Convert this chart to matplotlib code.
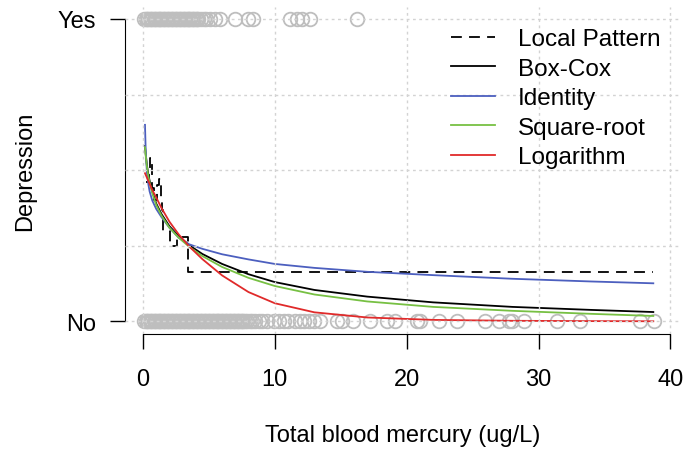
import matplotlib
matplotlib.use("Agg")
import matplotlib.pyplot as plt

plt.rcParams['font.family'] = ['Liberation Sans', 'DejaVu Sans']

# ---- data ----
x_yes = [0.1, 0.2, 0.3, 0.4, 0.5, 0.6, 0.7, 0.8, 0.9, 1.0, 1.1, 1.2, 1.3, 1.4,
         1.5, 1.6, 1.7, 1.8, 1.9, 2.0, 2.1, 2.2, 2.3, 2.4, 2.5, 2.6, 2.7, 2.8,
         2.9, 3.0, 3.1, 3.2, 3.3, 3.4, 3.5, 3.6, 3.7, 3.8, 3.9, 4.0, 4.1, 4.2,
         4.4, 4.6, 4.8,
         5.09, 5.46, 5.84, 6.98, 7.97, 8.35, 11.16, 11.69, 12.07, 12.68, 16.2]
x_no = [0.1, 0.2, 0.3, 0.4, 0.5, 0.6, 0.7, 0.8, 0.9, 1.0, 1.1, 1.2, 1.3, 1.4,
        1.5, 1.6, 1.7, 1.8, 1.9, 2.0, 2.1, 2.2, 2.3, 2.4, 2.5, 2.6, 2.7, 2.8,
        2.9, 3.0, 3.1, 3.2, 3.3, 3.4, 3.5, 3.6, 3.7, 3.8, 3.9, 4.0, 4.1, 4.2,
        4.3, 4.4, 4.5, 4.6, 4.7, 4.8, 4.9, 5.0, 5.1, 5.2, 5.3, 5.4, 5.5, 5.6,
        5.7, 5.8, 5.9, 6.0, 6.1, 6.2, 6.3, 6.4, 6.5, 6.6, 6.7, 6.8, 6.9, 7.0,
        7.1, 7.2, 7.3, 7.4, 7.5, 7.6, 7.7, 7.9, 8.1, 8.3, 8.5, 8.8, 9.0,
        9.4, 9.9, 10.3, 10.7, 11.0, 11.5, 11.9, 12.2, 12.6, 13.0, 13.43,
        14.70, 15.08, 15.96, 17.23, 18.50, 19.13, 20.77, 21.03, 22.41, 23.81,
        25.96, 26.97, 27.73, 27.98, 28.86, 31.40, 33.17, 37.72, 38.73]

curve_x = [0.15, 0.2, 0.3, 0.4, 0.5, 0.7, 1.0, 1.4, 2.0, 2.7, 3.5, 4.5, 6, 8,
           10, 13, 17, 22, 28, 34, 38.7]
p_boxcox = [0.58, 0.555, 0.515, 0.487, 0.465, 0.43, 0.39, 0.355, 0.315, 0.282,
            0.252, 0.223, 0.19, 0.156, 0.13, 0.104, 0.082, 0.063, 0.048, 0.038, 0.031]
p_identity = [0.65, 0.57, 0.49, 0.455, 0.43, 0.40, 0.372, 0.345, 0.31, 0.277,
              0.255, 0.24, 0.222, 0.205, 0.19, 0.177, 0.164, 0.153, 0.141, 0.132, 0.126]
p_sqrt = [0.576, 0.55, 0.51, 0.482, 0.46, 0.425, 0.385, 0.35, 0.31, 0.277,
          0.247, 0.216, 0.18, 0.144, 0.117, 0.089, 0.066, 0.048, 0.035, 0.025, 0.018]
p_log = [0.49, 0.485, 0.475, 0.465, 0.455, 0.435, 0.41, 0.375, 0.33, 0.288,
         0.248, 0.206, 0.152, 0.097, 0.06, 0.03, 0.013, 0.005, 0.002, 0.001, 0.0005]

local_x = [0.25, 0.45, 0.55, 0.65, 0.85, 1.05, 1.25, 1.35, 1.45, 1.55, 2.05,
           2.55, 3.40, 38.7]
local_p = [0.46, 0.50, 0.54, 0.44, 0.40, 0.45, 0.47, 0.41, 0.37, 0.30, 0.25,
           0.28, 0.162, 0.162]

xticks = [0, 10, 20, 30, 40]
ytick_labels = ["No", "Yes"]

# ---- figure ----
W, H = 685, 456
fig = plt.figure(figsize=(W / 100, H / 100), dpi=100)
ax = fig.add_axes([125 / W, (H - 334.5) / H, (681 - 125) / W, (334.5 - 7.9) / H])
ax.set_xlim(-1.366, 40.8)
ax.set_ylim(-0.04, 1.04)

pt_style = dict(linestyle='none', marker='o', ms=9.8, mfc='none',
                mec='#BEBEBE', mew=1.3, zorder=2)
ax.plot(x_yes, [1] * len(x_yes), **pt_style)
ax.plot(x_no, [0] * len(x_no), **pt_style)

ax.step(local_x, local_p, where='post', color='black', lw=1.3,
        dashes=(6, 4), label='Local Pattern', zorder=3)
ax.plot(curve_x, p_boxcox, color='black', lw=1.3, label='Box-Cox', zorder=3)
ax.plot(curve_x, p_identity, color='#4C5FBF', lw=1.3, label='Identity', zorder=3)
ax.plot(curve_x, p_sqrt, color='#77C043', lw=1.3, label='Square-root', zorder=3)
ax.plot(curve_x, p_log, color='#E02A2A', lw=1.3, label='Logarithm', zorder=3)

# dotted light-gray grid drawn over everything (as R's grid())
for gx in xticks:
    ax.axvline(gx, color='#D3D3D3', lw=1.0, dashes=(2, 2.5), zorder=4)
for gy in [0, 0.25, 0.5, 0.75, 1.0]:
    ax.axhline(gy, color='#D3D3D3', lw=1.0, dashes=(2, 2.5), zorder=4)

for s in ['top', 'right']:
    ax.spines[s].set_visible(False)
ax.spines['left'].set_bounds(0, 1)
ax.spines['bottom'].set_bounds(0, 40)
ax.set_xticks(xticks)
ax.set_xticklabels([str(v) for v in xticks])
ax.set_yticks([0, 1])
ax.set_yticklabels(ytick_labels)
ax.tick_params(axis='both', direction='out', length=11, width=1.0,
               labelsize=17)
ax.tick_params(axis='x', pad=14)
ax.tick_params(axis='y', pad=10)
ax.set_xlabel('Total blood mercury (ug/L)', fontsize=17, labelpad=24)
ax.set_ylabel('Depression', fontsize=17, labelpad=15)

leg = ax.legend(loc='upper left', bbox_to_anchor=(451 / W, (H - 29) / H),
                bbox_transform=fig.transFigure, frameon=False, fontsize=17.5,
                handlelength=1.8, handletextpad=0.95, labelspacing=0.31,
                borderaxespad=0, borderpad=0)
leg.set_zorder(5)

fig.savefig('out.png', dpi=100)
